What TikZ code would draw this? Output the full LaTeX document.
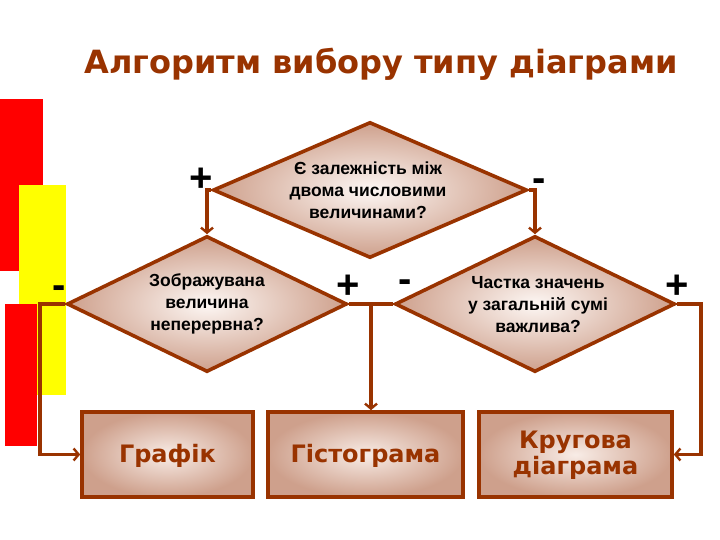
\documentclass[tikz,border=0pt]{standalone}
\usepackage{fontspec}
\setmainfont{DejaVu Sans}
\newfontfamily\libsans{Liberation Sans}
\usetikzlibrary{shapes.geometric,arrows.meta}
\definecolor{brn}{RGB}{153,51,0}
\definecolor{tanout}{RGB}{206,160,140}
\definecolor{tanin}{RGB}{253,247,244}
\definecolor{boxin}{RGB}{248,236,230}
\definecolor{redbar}{RGB}{255,0,0}
\definecolor{yelbar}{RGB}{255,255,0}
\tikzset{
  dia/.style={diamond, draw=brn, line width=3.6pt, shading=radial, inner color=tanin, outer color=tanout, inner sep=0pt, minimum width=280pt, minimum height=136pt},
  qtext/.style={font=\libsans\bfseries\fontsize{17.5}{22}\selectfont, align=center, text=black},
  resbox/.style={draw=brn, line width=3.6pt, shading=radial, inner color=boxin, outer color=tanout, minimum height=85pt, inner sep=0pt},
  restext/.style={font=\bfseries\fontsize{24}{26}\selectfont, align=center, text=brn},
  conn/.style={draw=brn, line width=3.6pt},
  arr/.style={conn, -{Straight Barb[length=5pt,width=12pt,line width=2.4pt]}},
  sgn/.style={font=\libsans\bfseries\fontsize{40}{40}\selectfont, text=black, inner sep=0pt}
}
\begin{document}
\begin{tikzpicture}[x=1pt,y=-1pt]
\useasboundingbox (0,0) rectangle (720,540);
\fill[white] (0,0) rectangle (720,540);
% side bars
\fill[redbar] (0,99) rectangle (43,271);
\fill[yelbar] (19,185) rectangle (66,395);
\fill[redbar] (5,304) rectangle (37,446);
% title
\node[font=\bfseries\fontsize{32}{34}\selectfont, text=brn] (title) at (381,64) {Алгоритм вибору типу діаграми};
% diamonds
\node[dia, minimum width=314pt] (top) at (370,190) {};
\node[qtext] (toptxt) at (368,190) {Є залежність між\\двома числовими\\величинами?};
\node[dia] (left) at (207,304) {};
\node[qtext] (lefttxt) at (207,304) {Зображувана\\величина\\неперервна?};
\node[dia] (right) at (535,304) {};
\node[qtext] (righttxt) at (538,305) {Частка значень\\у загальній сумі\\важлива?};
% result boxes
\node[resbox, minimum width=171pt] (graf) at (167.5,454.5) {};
\node[restext] (graftxt) at (167.5,456) {Графік};
\node[resbox, minimum width=195pt] (hist) at (365.5,454.5) {};
\node[restext] (histtxt) at (365.5,456) {Гістограма};
\node[resbox, minimum width=193pt] (krug) at (575.5,454.5) {};
\node[restext] (krugtxt) at (575.5,455) {Кругова\\діаграма};
% connectors
\draw[arr] (top.west) -| (left.north);
\draw[arr] (top.east) -| (right.north);
\draw[arr] (left.west) -- ++(-25,0) |- (graf.west);
\draw[conn] (left.east) -- (right.west);
\coordinate (j) at (371,304);
\draw[arr] (j) -- (j |- hist.north);
\draw[arr] (right.east) -- ++(24,0) |- (krug.east);
% signs
\node[sgn] (p1) at (201,180) {+};
\node[sgn] (m1) at (539,185) {-};
\node[sgn] (m2) at (59,292) {-};
\node[sgn] (p2) at (348,287) {+};
\node[sgn] (m3) at (405,286) {-};
\node[sgn] (p3) at (677,287) {+};
\end{tikzpicture}
\end{document}
